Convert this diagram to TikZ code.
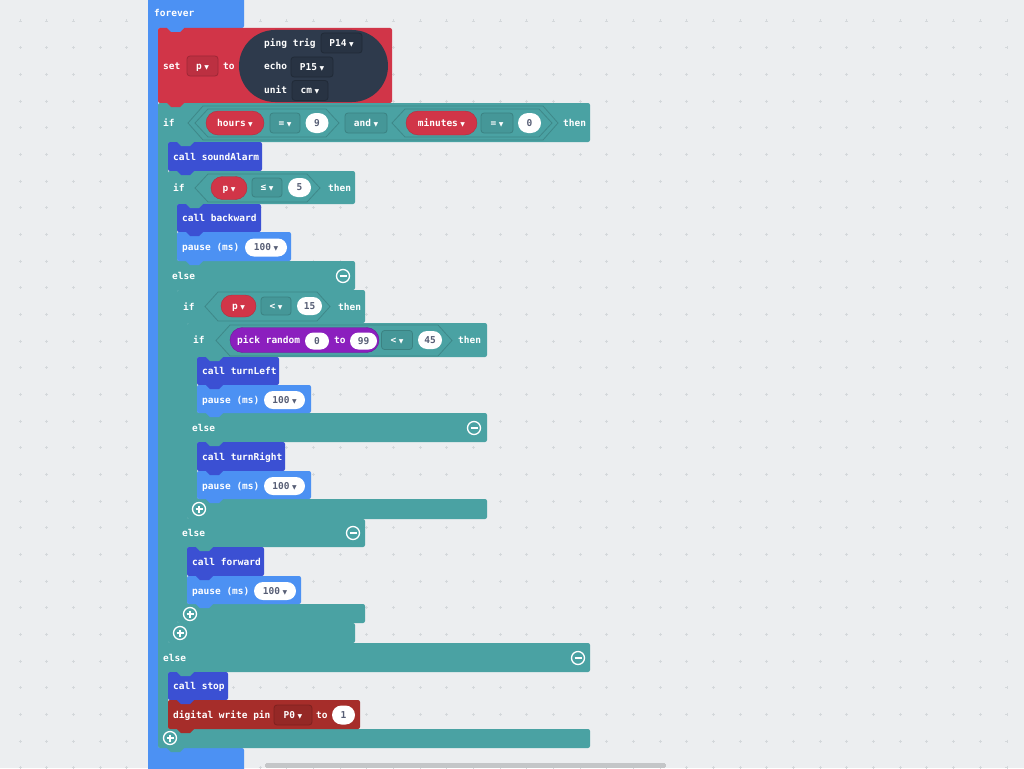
\documentclass[tikz,border=0pt]{standalone}
\usepackage{fontspec}
\usetikzlibrary{shapes.misc}
\newfontfamily\blockschrift{DejaVu Sans Mono}
\newfontfamily\symschrift{DejaVu Sans}
\newcommand{\blockfont}{\blockschrift\bfseries\fontsize{9.5}{11}\selectfont}
\newcommand{\ab}{\hspace{2.5pt}{\symschrift\fontsize{6}{6}\selectfont ▼}}
% Farben
\definecolor{hintergrund}{RGB}{236,238,240}
\definecolor{gitterfarbe}{RGB}{212,216,219}
\definecolor{grundblau}{RGB}{76,145,243}
\definecolor{variablenrot}{RGB}{209,53,72}
\definecolor{pingdunkel}{RGB}{46,58,76}
\definecolor{logik}{RGB}{74,162,163}
\definecolor{funktion}{RGB}{59,80,211}
\definecolor{lila}{RGB}{139,31,190}
\definecolor{pinrot}{RGB}{166,45,42}
\definecolor{wertgrau}{RGB}{87,94,117}
\definecolor{scrollgrau}{RGB}{196,198,200}
\tikzset{
	txt/.style={text=white, font=\blockfont, anchor=mid west, inner sep=0, yshift=-1.2pt},
	wahl/.style={rectangle, rounded corners=3, draw, line width=0.8, font=\blockfont,
		text=white, inner sep=0, text height=6.8pt, text depth=0pt, minimum height=20},
	logwahl/.style={wahl, fill=logik!93!black, draw=logik!80!black},
	rotwahl/.style={wahl, fill=variablenrot!90!black, draw=variablenrot!75!black},
	pingwahl/.style={wahl, fill=pingdunkel!88!black, draw=pingdunkel!72!black},
	pinwahl/.style={wahl, fill=pinrot!90!black, draw=pinrot!75!black},
	wert/.style={rounded rectangle, fill=white, font=\blockfont, text=wertgrau,
		inner sep=0, text height=6.8pt, text depth=0pt, minimum height=18},
	var/.style={rounded rectangle, fill=variablenrot, draw=variablenrot!85!black,
		font=\blockfont, text=white, inner sep=0, text height=6.8pt, text depth=0pt,
		minimum height=23},
	hex/.style={fill=logik, draw=logik!84!black, line width=0.8},
	knopf/.style={draw=white, line width=1.3},
	gitter/.style={draw=gitterfarbe, line width=0.6},
}
% Bausteine
\newcommand{\wennblock}[9]{%
	\fill[logik, rounded corners=2] (#1,#4) -- (#2,#4) -- (#2,#5) -- (#3,#5) --
	(#3,#6) -- (#2,#6) -- (#2,#7) -- (#3,#7) -- (#3,#8) -- (#2,#8) -- (#2,#9) --
	(#1,#9) -- cycle;}
\newcommand{\sechseck}[5]{%
	\filldraw[hex] (#1,{(#3+#4)/2}) -- ({#1+#5},#3) -- ({#2-#5},#3) --
	(#2,{(#3+#4)/2}) -- ({#2-#5},#4) -- ({#1+#5},#4) -- cycle;}
\newcommand{\nase}[3]{%
	\fill[#3] (#1,#2) ++(0,-1) -- ++(0,1) -- ++(4,4) -- ++(9,0) -- ++(4,-4) --
	++(0,-1) -- cycle;}
\newcommand{\minusknopf}[2]{%
	\draw[knopf] (#1,#2) circle (6.5);
	\draw[knopf] (#1,#2) ++(-3.5,0) -- ++(7,0);}
\newcommand{\plusknopf}[2]{%
	\draw[knopf] (#1,#2) circle (6.5);
	\draw[knopf] (#1,#2) ++(-3.5,0) -- ++(7,0) (#1,#2) ++(0,-3.5) -- ++(0,7);}
\begin{document}
\begin{tikzpicture}[x=1pt, y=-1pt]
	\useasboundingbox (0,0) rectangle (1024,768);
	% Hintergrund mit Raster
	\fill[hintergrund] (0,0) rectangle (1024,768);
	\foreach \i in {0,...,38}
		\foreach \j in {0,...,28}
			\draw[gitter] ({20+26.67*\i},{21+26.67*\j}) ++(-1.5,0) -- ++(3,0)
			++(-1.5,-1.5) -- ++(0,3);
	% forever
	\fill[grundblau, rounded corners=2] (148,-5) -- (244,-5) -- (244,28) --
	(158,28) -- (158,748) -- (244,748) -- (244,775) -- (148,775) -- cycle;
	\node[txt] (forever) at (154,13) {forever};
	% set p to ping
	\fill[variablenrot, rounded corners=2] (158,28) rectangle (392,103);
	\node[txt] (set) at (163,66) {set};
	\node[rotwahl, minimum width=31] (varp) at (202.5,66) {p\ab};
	\node[txt] (setto) at (223,66) {to};
	\node[rounded rectangle, fill=pingdunkel, minimum width=149, minimum height=72,
	inner sep=0] (ping) at (313.5,66) {};
	\node[txt] (pingtrig) at (264,43) {ping trig};
	\node[pingwahl, minimum width=41] (trig) at (341.5,43) {P14\ab};
	\node[txt] (echo) at (264,66) {echo};
	\node[pingwahl, minimum width=42] (echopin) at (312,67) {P15\ab};
	\node[txt] (unit) at (264,90) {unit};
	\node[pingwahl, minimum width=36] (einheit) at (310,90.5) {cm\ab};
	% if hours = 9 and minutes = 0
	\wennblock{158}{590}{168}{103}{142}{643}{672}{729}{748}
	\node[txt] (if1) at (163,123) {if};
	\sechseck{188}{558}{106}{140}{15}
	\sechseck{195}{339}{109}{137}{13}
	\sechseck{392}{552}{109}{137}{13}
	\node[var, minimum width=58, minimum height=24] (hours) at (235,123) {hours\ab};
	\node[logwahl, minimum width=30] (gleich1) at (285,123) {=\ab};
	\node[wert, minimum width=23, minimum height=20] (neun) at (317,123) {9};
	\node[logwahl, minimum width=42] (und) at (366,123) {and\ab};
	\node[var, minimum width=71, minimum height=24] (minutes) at (441.5,123) {minutes\ab};
	\node[logwahl, minimum width=32] (gleich2) at (497,123) {=\ab};
	\node[wert, minimum width=23, minimum height=20] (nullwert) at (529.5,123) {0};
	\node[txt] (then1) at (563,123) {then};
	\fill[funktion, rounded corners=2] (168,142) rectangle (262,171);
	\node[txt] (alarm) at (173,157) {call soundAlarm};
	% if p <= 5
	\wennblock{168}{355}{177}{171}{204}{261}{290}{623}{643}
	\node[txt] (if2) at (173,188) {if};
	\sechseck{195}{320}{174}{202}{13}
	\node[var, minimum width=36] (p1) at (229,188) {p\ab};
	\node[logwahl, minimum width=30, minimum height=19] (kg) at (267,187.5) {≤\ab};
	\node[wert, minimum width=23, minimum height=19] (fuenf) at (299.5,187.5) {5};
	\node[txt] (then2) at (328,188) {then};
	\fill[funktion, rounded corners=2] (177,204) rectangle (261,232);
	\node[txt] (backward) at (182,218) {call backward};
	\fill[grundblau, rounded corners=2] (177,232) rectangle (291,261);
	\node[txt] (pause1) at (182,247) {pause (ms)};
	\node[wert, minimum width=42] (ms1) at (266,247.5) {100\ab};
	\node[txt] (else2) at (172,276) {else};
	\minusknopf{343}{276}
	% if p < 15
	\wennblock{177}{365}{187}{290}{323}{519}{547}{604}{623}
	\node[txt] (if3) at (183,307) {if};
	\sechseck{205}{330}{292}{321}{13}
	\node[var, minimum width=35, minimum height=22] (p2) at (238.5,306) {p\ab};
	\node[logwahl, minimum width=30, minimum height=18] (kl1) at (276,306) {<\ab};
	\node[wert, minimum width=25] (fuenfzehn) at (309.5,306) {15};
	\node[txt] (then3) at (338,307) {then};
	% if pick random < 45
	\wennblock{187}{487}{197}{323}{357}{413}{442}{499}{519}
	\node[txt] (if4) at (193,340) {if};
	\sechseck{216}{452}{325}{356}{14}
	\node[rounded rectangle, fill=lila, draw=lila!80!black, minimum width=149,
	minimum height=25, inner sep=0] (zufall) at (304.5,340) {};
	\node[txt] (pick) at (237,340) {pick random};
	\node[wert, minimum width=24, minimum height=17] (von) at (317,341) {0};
	\node[txt] (bis) at (334,340) {to};
	\node[wert, minimum width=27, minimum height=17] (obergrenze) at (363.5,341) {99};
	\node[logwahl, minimum width=31, minimum height=19] (kl2) at (397,340) {<\ab};
	\node[wert, minimum width=24] (schwelle) at (430,340) {45};
	\node[txt] (then4) at (458,340) {then};
	\fill[funktion, rounded corners=2] (197,357) rectangle (279,385);
	\node[txt] (links) at (202,371) {call turnLeft};
	\fill[grundblau, rounded corners=2] (197,385) rectangle (311,413);
	\node[txt] (pause2) at (202,400) {pause (ms)};
	\node[wert, minimum width=41] (ms2) at (284.5,400) {100\ab};
	\node[txt] (else4) at (192,428) {else};
	\minusknopf{474}{428}
	\fill[funktion, rounded corners=2] (197,442) rectangle (285,471);
	\node[txt] (rechts) at (202,457) {call turnRight};
	\fill[grundblau, rounded corners=2] (197,471) rectangle (311,499);
	\node[txt] (pause3) at (202,486) {pause (ms)};
	\node[wert, minimum width=41] (ms3) at (284.5,486) {100\ab};
	\plusknopf{199}{509}
	% else von p < 15
	\node[txt] (else3) at (182,533) {else};
	\minusknopf{353}{533}
	\fill[funktion, rounded corners=2] (187,547) rectangle (264,576);
	\node[txt] (vorwaerts) at (192,562) {call forward};
	\fill[grundblau, rounded corners=2] (187,576) rectangle (301,604);
	\node[txt] (pause4) at (192,591) {pause (ms)};
	\node[wert, minimum width=42] (ms4) at (275,591) {100\ab};
	\plusknopf{190}{614}
	\plusknopf{180}{633}
	% else aussen
	\node[txt] (else1) at (163,658) {else};
	\minusknopf{578}{658}
	\fill[funktion, rounded corners=2] (168,672) rectangle (228,700);
	\node[txt] (stopp) at (173,686) {call stop};
	\fill[pinrot, rounded corners=2] (168,700) rectangle (360,729);
	\node[txt] (digital) at (173,715) {digital write pin};
	\node[pinwahl, minimum width=38] (pin) at (293,715) {P0\ab};
	\node[txt] (pinto) at (316,715) {to};
	\node[wert, minimum width=23, minimum height=19] (eins) at (343.5,715) {1};
	\plusknopf{170}{738}
	% Nasen unter den Bloecken
	\foreach \x/\y/\f in {167/28/grundblau, 167/103/variablenrot, 177/142/logik,
		177/171/funktion, 186/204/logik, 186/232/funktion, 186/261/grundblau,
		186/290/logik, 196/323/logik, 206/357/logik, 206/385/funktion,
		206/413/grundblau, 206/442/logik, 206/471/funktion, 206/499/grundblau,
		196/519/logik, 196/547/logik, 196/576/funktion, 196/604/grundblau,
		186/623/logik, 177/643/logik, 177/672/logik, 177/700/funktion,
		177/729/pinrot, 167/748/logik}
		\nase{\x}{\y}{\f}
	% Scrollbalken
	\draw[line width=5, line cap=round, scrollgrau] (268,765) -- (663,765);
\end{tikzpicture}
\end{document}
